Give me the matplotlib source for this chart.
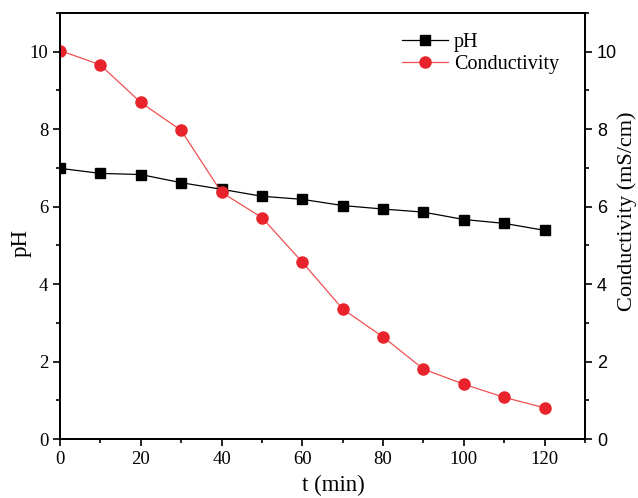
import matplotlib
matplotlib.use('Agg')
from matplotlib import pyplot as plt
from matplotlib.ticker import MultipleLocator

t_min = [0, 10, 20, 30, 40, 50, 60, 70, 80, 90, 100, 110, 120]
ph = [6.99, 6.86, 6.83, 6.62, 6.45, 6.27, 6.19, 6.03, 5.94, 5.86, 5.67, 5.57, 5.39]
conductivity = [10.03, 9.66, 8.69, 7.97, 6.37, 5.72, 4.57, 3.36, 2.64, 1.81, 1.42, 1.08, 0.81]

SERIF = 'Liberation Serif'
SANS = 'Liberation Sans'

fig = plt.figure(figsize=(6.38, 4.98), dpi=100)
ax = fig.add_axes([0.094, 0.118, 0.823, 0.856])
ax2 = ax.twinx()

l1, = ax.plot(t_min, ph, color='black', lw=0.9, marker='s', ms=7, label='pH')
l2, = ax2.plot(t_min, conductivity, color='#f05050', lw=0.9, marker='o', ms=8,
               mfc='#e8232b', mec='#e8232b', label='Conductivity')

ax.set_xlim(0, 130)
ax.set_ylim(0, 11)
ax2.set_ylim(0, 11)

ax.xaxis.set_major_locator(MultipleLocator(20))
ax.xaxis.set_minor_locator(MultipleLocator(10))
for a in (ax, ax2):
    a.yaxis.set_major_locator(MultipleLocator(2))
    a.yaxis.set_minor_locator(MultipleLocator(1))
    for s in a.spines.values():
        s.set_linewidth(1.3)
    a.tick_params(which='major', length=5, width=1.2, direction='out', labelsize=13.5)
    a.tick_params(which='minor', length=3, width=1.2, direction='out')

for lab in ax.get_xticklabels() + ax.get_yticklabels():
    lab.set_family(SERIF)
for lab in ax2.get_yticklabels():
    lab.set_family(SANS)
    lab.set_fontsize(13)

ax.set_xlabel('t (min)', family=SERIF, fontsize=16.5)
ax.set_ylabel('pH', family=SERIF, fontsize=16.5)
ax2.set_ylabel('Conductivity (mS/cm)', family=SERIF, fontsize=16)
ax.xaxis.set_label_coords(0.52, -0.083)
ax.yaxis.set_label_coords(-0.055, 0.46)
ax2.yaxis.set_label_coords(1.062, 0.535)

ax.legend(handles=[l1, l2], loc='upper right', bbox_to_anchor=(0.985, 0.995),
          frameon=False, prop={'family': SERIF, 'size': 14.5},
          handlelength=2.3, handletextpad=0.3, labelspacing=0.15)

fig.savefig('out.png', dpi=100)
